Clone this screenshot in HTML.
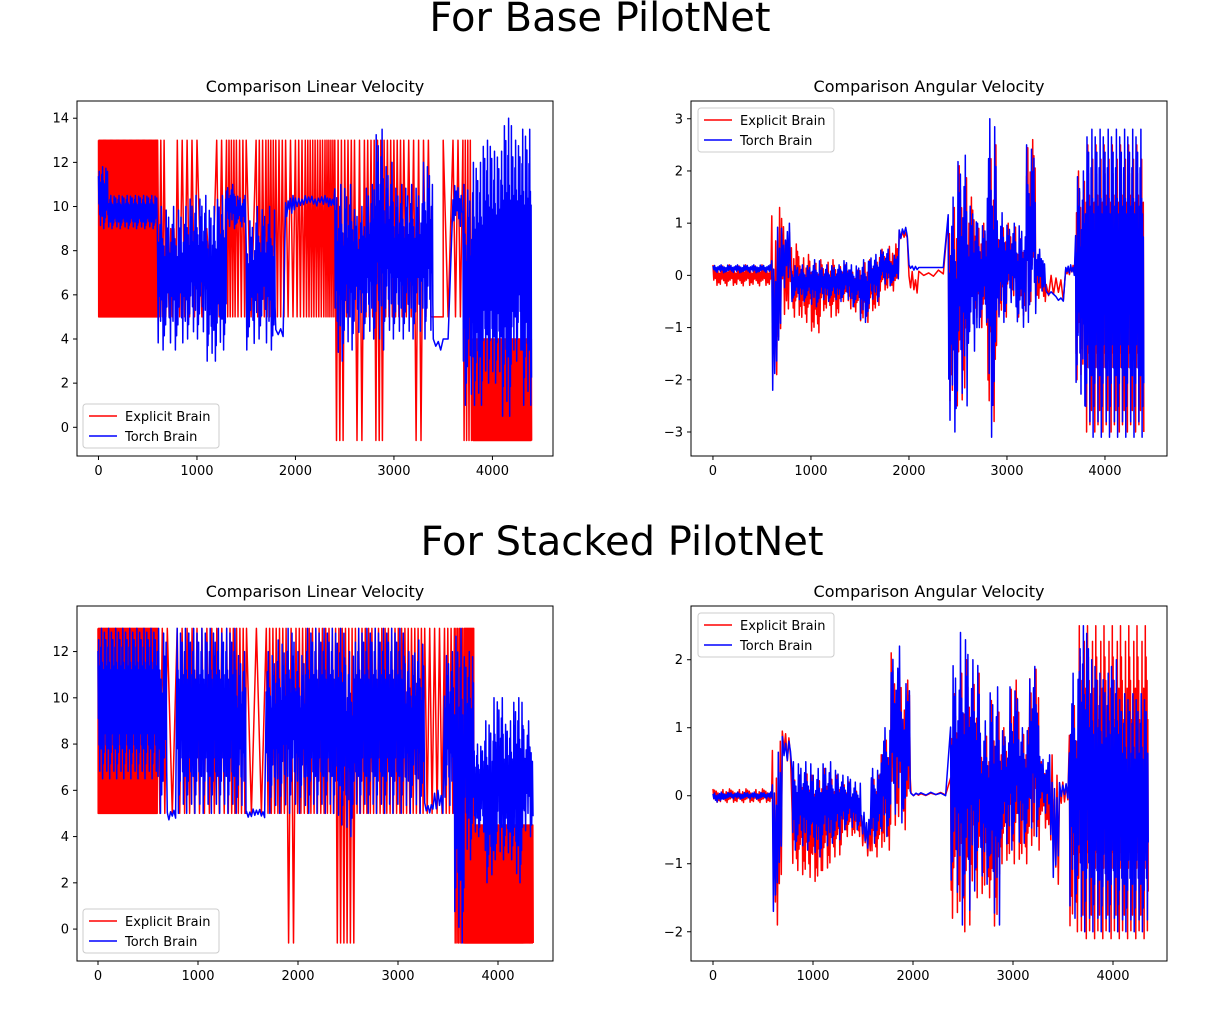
<!DOCTYPE html>
<html><head><meta charset="utf-8"><style>
html,body{margin:0;padding:0;background:#fff;}
svg{display:block;font-family:"DejaVu Sans","Liberation Sans",sans-serif;}
</style></head><body>
<svg id="fig" width="1229" height="1011" viewBox="0 0 1229 1011">
<text x="600" y="31" font-size="40" text-anchor="middle">For Base PilotNet</text>
<text x="622" y="555" font-size="40" text-anchor="middle">For Stacked PilotNet</text>
</svg>
<script>
// ---- Base PilotNet, linear velocity (100-sample bins) ----
const tlRedLo=[5,5,5,5,5,5,5,5,5,5,5,5,5,5,5,5,5,5,5,5,5,5,5,5,-0.6,5,-0.6,5,-0.6,5,5,5,-0.6,5,5,5,5,-0.6,-0.6,-0.6,-0.6,-0.6,-0.6,-0.6];
const tlRedHi=[13,13,13,13,13,13,13,9,13,13,13,9,13,13,13,13,13,13,13,13,13,13,13,13,13,13,13,13,13,13,13,13,13,13,5,13,13,13,4,4,4,4,4,4];
const tlRedN=[20,20,20,20,20,20,3,3,2,2,1,1,2,4,3,1,3,4,3,2,3,4,4,5,3,3,2,3,3,3,3,2,2,2,0,1,2,4,20,20,20,20,20,20];
const tlBlueLo=[9,9,9,9,9,9,3.5,3.5,3.5,4,4,3,3.5,9,9,3.5,4,3.5,4,9.5,10,10,10,10,3,3.5,4,4,3.5,4,4,4,4,4,3.5,4,9,1,1,2,2,0.5,3,1];
const tlBlueHi=[11.8,10.5,10.5,10.5,10.5,10.5,10,10,10,10.5,10.5,10,10.5,11,10.5,9.5,10,10,4.5,10.5,10.5,10.5,10.5,10.5,11,11,10,11,13.5,12,11,11,11,12,4,4,11,11,12,13,12.5,14,13,13.5];
const tlBlueN=[12,12,12,12,12,12,8,8,8,10,10,12,12,8,8,8,8,8,2,4,3,3,3,4,10,10,8,10,10,10,10,10,8,10,2,1,6,10,14,14,14,14,14,14];
// ---- Base PilotNet, angular velocity ----
const trRedLo=[-0.2,-0.2,-0.2,-0.2,-0.2,-0.2,-1.9,-0.8,-0.8,-0.9,-1.1,-0.7,-0.8,-0.5,-0.7,-0.9,-0.7,-0.3,-0.3,0.7,-0.4,0,-0.05,0,-2.5,-2.5,-1,-1,-2.8,-0.8,-0.5,-0.8,-0.5,-0.5,-0.5,-0.5,0,-2,-3,-3,-3,-3,-3,-3];
const trRedHi=[0.2,0.2,0.2,0.2,0.2,0.2,1.3,1.3,0.6,0.4,0.3,0.3,0.3,0.2,0.1,0.3,0.3,0.5,0.6,0.9,0.1,0.1,0.1,0.1,1.5,2.1,1.5,1,2.5,1,1,0.7,2.6,0.3,0,0,0.2,2,2.5,2.5,2.5,2.5,2.5,2.5];
const trBlueLo=[0.05,0.05,0.05,0.05,0.05,0.05,-2.2,-0.3,-0.5,-0.5,-0.6,-0.5,-0.5,-0.5,-0.6,-0.9,-0.5,-0.2,-0.2,0.7,0.1,0.15,0.15,0.15,-3,-2.5,-1.6,-1,-3.1,-0.9,-0.6,-1.1,-0.9,-0.3,-0.4,-0.5,0,-2.5,-3.1,-3.1,-3.1,-3.1,-3.1,-3.1];
const trBlueHi=[0.2,0.2,0.2,0.2,0.2,0.2,1,1,0.2,0.2,0.3,0.2,0.2,0.3,0.2,0.3,0.4,0.5,0.4,0.95,0.2,0.15,0.15,0.15,1.5,2.3,1.4,1,3,1.2,1,1,2.5,0.5,-0.3,-0.4,0.2,2,2.8,2.8,2.8,2.8,2.8,2.8];
const trN=[6,6,6,6,6,6,5,5,8,8,8,8,8,8,8,8,8,8,6,3,3,1,1,1,8,8,8,8,8,8,8,8,8,6,2,2,4,10,12,12,12,12,12,12];
// ---- Stacked PilotNet, linear velocity ----
const blRedLo=[5,5,5,5,5,5,5,5,5,5,5,5,5,5,5,5,5,5,5,-0.6,5,5,5,5,-0.6,-0.6,5,5,5,5,5,5,5,5,5,5,-0.6,-0.6,-0.6,-0.6,-0.6,-0.6,-0.6,-0.6];
const blRedHi=[13,13,13,13,13,13,13,13,13,13,13,13,13,13,13,13,13,13,13,13,13,13,13,13,13,13,13,13,13,13,13,13,13,13,13,13,13,13,4.5,4.5,4.5,4.5,4.5,4.5];
const blRedN=[20,20,20,20,20,20,2,1,2,2,2,2,2,3,3,1,1,3,3,2,3,3,3,3,3,3,3,3,3,3,3,3,3,2,2,3,6,20,20,20,20,20,20,12];
const blBlueLo=[6.5,6.5,6.5,6.5,6.5,6.5,5,4.7,5,5,5,5,5,5,5,4.8,4.8,5,5,5,5,5,5,5,4.5,4,5,5,5,5,5,5,5,5,5,5,-0.6,3,4,2,3,3,2,4];
const blBlueHi=[13,13,13,13,13,13,13,5.2,13,13,13,13,13,13,12,5.2,5.2,12,12.5,13,12,13,13,13,13,12,13,13,13,13,13,12,12.5,5.5,6,12,13,12,8,9,10,9,10,9];
const blBlueN=[14,14,14,14,14,14,8,3,12,12,12,12,12,12,10,3,3,10,10,10,10,12,12,12,12,10,12,12,12,12,12,10,10,3,3,10,12,12,12,12,12,12,12,8];
// ---- Stacked PilotNet, angular velocity ----
const brRedLo=[-0.1,-0.1,-0.1,-0.1,-0.1,-0.1,-1.9,0.5,-1.1,-1.2,-1.3,-1.1,-0.9,-0.6,-0.6,-0.9,-0.9,-0.8,-0.5,-0.5,0,0,0,0,-1.8,-2,-1.5,-1.5,-2,-1,-1,-1,-0.8,-0.5,-1.3,-0.2,-2,-2.1,-2.1,-2.1,-2.1,-2.1,-2.1,-2.1];
const brRedHi=[0.1,0.1,0.1,0.1,0.1,0.1,0.8,1,0.3,0.4,0.3,0.4,0.3,0.2,0.1,-0.3,0.3,0.9,2.1,1.7,0.05,0.05,0.05,0.05,1.5,2,1.8,1,1.4,1,1.7,1,2,0.5,0.7,0.2,1.5,2.5,2.5,2.5,2.5,2.5,2.5,2.5];
const brBlueLo=[-0.1,-0.05,-0.05,-0.05,-0.05,-0.05,-1.7,0.5,-0.8,-0.8,-0.9,-0.8,-0.7,-0.5,-0.5,-0.8,-0.7,-0.6,-0.4,-0.4,0,0,0,0,-1.6,-1.9,-1.4,-1.3,-1.9,-0.8,-0.8,-0.7,-0.6,-0.3,-1.2,-0.1,-1.8,-2,-2,-2,-2,-2,-2,-2];
const brBlueHi=[0.05,0.05,0.05,0.05,0.05,0.05,0.7,0.9,0.5,0.5,0.4,0.5,0.4,0.3,0.2,-0.2,0.4,1,2.2,1.7,0.05,0.05,0.05,0.05,2,2.4,2,1.1,1.6,1,1.6,1,1.9,0.6,0.6,0.2,1.8,2.5,2,1.8,2,1.5,1.5,1.5];
const brN=[6,6,6,6,6,6,5,3,8,8,8,8,8,8,8,4,8,8,6,6,2,1,1,1,8,8,8,8,8,8,8,8,8,6,4,3,8,12,12,12,12,12,12,12];
// relative excursion reach per swing (read as typical spikiness of the traces)
const swingReach=[1,0.45,0.8,0.3,0.65,0.95,0.4,0.7,0.2,0.85,0.55,0.35,0.9,0.5,0.25,0.75,0.6,1,0.3,0.55];

const xTicks=[0,1000,2000,3000,4000];
const seriesNames=["Explicit Brain","Torch Brain"];
const NS="http://www.w3.org/2000/svg";
const svg=document.getElementById('fig');
function el(tag,attrs,parent){const e=document.createElementNS(NS,tag);for(const k in attrs)e.setAttribute(k,attrs[k]);(parent||svg).appendChild(e);return e;}

function panel(name,box,title,xr,yr,yTicks,series,legendPos){
  const g=el('g',{});
  
  
  const [L,T,R,B]=box;
  const sx=v=>L+(v-xr[0])/(xr[1]-xr[0])*(R-L);
  const sy=v=>B-(v-yr[0])/(yr[1]-yr[0])*(B-T);
  const cp='clip-'+name;
  const cl=el('clipPath',{id:cp},g);el('rect',{x:L,y:T,width:R-L,height:B-T},cl);
  series.forEach((s,si)=>{
    const pts=[];let w=si*7;
    for(let i=0;i<s.lo.length;i++){
      const c=s.n[i],x0=i*s.bin,lo=s.lo[i],hi=s.hi[i];
      if(c===0){pts.push([x0,lo]);pts.push([x0+s.bin,lo]);continue;}
      const st=s.bin/(2*c);
      if(!s.tex){for(let k=0;k<2*c;k++){pts.push([x0+k*st,k%2===0?hi:lo]);}continue;}
      const mid=(lo+hi)/2;
      for(let k=0;k<2*c;k++){
        const f=swingReach[w%swingReach.length];w++;
        const v=k%2===0?mid+(hi-mid)*f:mid-(mid-lo)*f;
        pts.push([x0+k*st,v]);
      }
    }
    const p=el('polyline',{points:pts.map(q=>sx(q[0]).toFixed(1)+','+sy(q[1]).toFixed(1)).join(' '),fill:'none',stroke:s.color,'stroke-width':1.5,'stroke-linejoin':'round','clip-path':'url(#'+cp+')'},g);
    
    
  });
  const fr=el('rect',{x:L,y:T,width:R-L,height:B-T,fill:'none',stroke:'#000','stroke-width':1},g);
  
  
  const t=el('text',{x:(L+R)/2,y:T-9,'font-size':16,'text-anchor':'middle'},g);t.textContent=title;
  
  
  xTicks.forEach(v=>{const x=sx(v);el('line',{x1:x,x2:x,y1:B,y2:B+4,stroke:'#000'},g);
    const tx=el('text',{x:x,y:B+19,'font-size':13,'text-anchor':'middle'},g);tx.textContent=v;
    
    });
  yTicks.forEach(v=>{const y=sy(v);el('line',{x1:L-4,x2:L,y1:y,y2:y,stroke:'#000'},g);
    const ty=el('text',{x:L-8,y:y+4.5,'font-size':13,'text-anchor':'end'},g);ty.textContent=(v<0?'\u2212'+(-v):v);
    
    });
  const lx=legendPos[0],ly=legendPos[1];
  const lg=el('g',{},g);
  
  
  el('rect',{x:lx,y:ly,width:136,height:44,rx:3,fill:'#fff','fill-opacity':0.8,stroke:'#ccc'},lg);
  series.forEach((s,i)=>{const yy=ly+12+i*20;
    el('line',{x1:lx+6,x2:lx+34,y1:yy,y2:yy,stroke:s.color,'stroke-width':1.5},lg);
    const lt=el('text',{x:lx+42,y:yy+5,'font-size':13},lg);lt.textContent=seriesNames[i];
    
    });
}
panel('base-linear-velocity',[77,101,553,456],'Comparison Linear Velocity',[-218,4615],[-1.3,14.78],[0,2,4,6,8,10,12,14],
  [{lo:tlRedLo,hi:tlRedHi,n:tlRedN,bin:100,color:'#ff0000'},{lo:tlBlueLo,hi:tlBlueHi,n:tlBlueN,bin:100,color:'#0000ff',tex:true}],[83,404]);
panel('base-angular-velocity',[691,101,1167,456],'Comparison Angular Velocity',[-224,4633],[-3.46,3.34],[-3,-2,-1,0,1,2,3],
  [{lo:trRedLo,hi:trRedHi,n:trN,bin:100,color:'#ff0000',tex:true},{lo:trBlueLo,hi:trBlueHi,n:trN,bin:100,color:'#0000ff',tex:true}],[698,108]);
panel('stacked-linear-velocity',[77,606,553,961],'Comparison Linear Velocity',[-210,4550],[-1.38,13.97],[0,2,4,6,8,10,12],
  [{lo:blRedLo,hi:blRedHi,n:blRedN,bin:99,color:'#ff0000'},{lo:blBlueLo,hi:blBlueHi,n:blBlueN,bin:99,color:'#0000ff',tex:true}],[83,909]);
panel('stacked-angular-velocity',[691,606,1167,961],'Comparison Angular Velocity',[-220,4540],[-2.43,2.79],[-2,-1,0,1,2],
  [{lo:brRedLo,hi:brRedHi,n:brN,bin:99,color:'#ff0000',tex:true},{lo:brBlueLo,hi:brBlueHi,n:brN,bin:99,color:'#0000ff',tex:true}],[698,613]);
</script>
</body></html>
